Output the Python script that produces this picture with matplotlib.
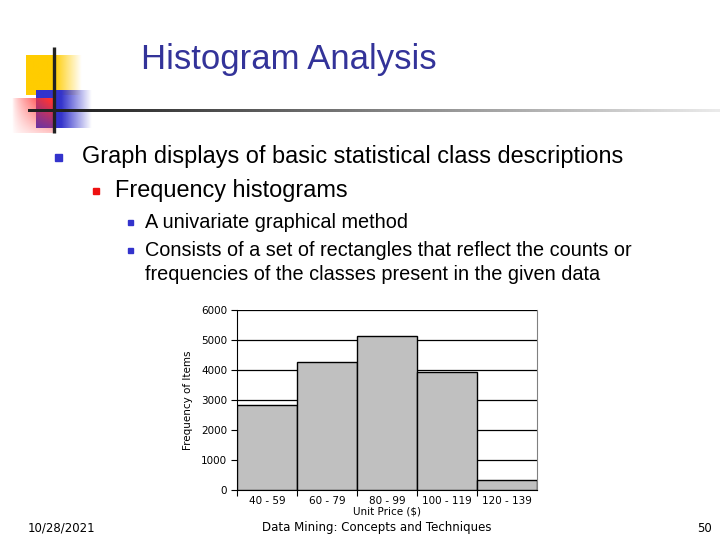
import numpy as np
import matplotlib.pyplot as plt
from matplotlib.patches import Rectangle

# histogram data
price_bins = ['40 - 59', '60 - 79', '80 - 99', '100 - 119', '120 - 139']
item_counts = [2850, 4280, 5150, 3920, 330]
y_ticks = [0, 1000, 2000, 3000, 4000, 5000, 6000]

title = 'Histogram Analysis'
bullets = [
    (1, 'Graph displays of basic statistical class descriptions'),
    (2, 'Frequency histograms'),
    (3, 'A univariate graphical method'),
    (3, 'Consists of a set of rectangles that reflect the counts or'),
    (0, 'frequencies of the classes present in the given data'),
]
footer_date = '10/28/2021'
footer_mid = 'Data Mining: Concepts and Techniques'
footer_page = '50'

W, H = 720, 540
fig = plt.figure(figsize=(7.2, 5.4), dpi=100)
fig.patch.set_facecolor('white')

# overlay in pixel coordinates for slide decoration and text
bg = fig.add_axes([0, 0, 1, 1], zorder=0)
bg.set_xlim(0, W)
bg.set_ylim(H, 0)
bg.axis('off')


def fade_box(ax, x0, x1, y0, y1, rgb, solid_to):
    n = 100
    t = np.linspace(0, 1, n)
    img = np.zeros((1, n, 4))
    img[..., :3] = rgb
    img[0, :, 3] = np.clip((1 - t) / (1 - solid_to), 0, 1)
    ax.imshow(img, extent=(x0, x1, y1, y0), aspect='auto', interpolation='bilinear', zorder=1)


# yellow and blue blocks fading to the right
fade_box(bg, 26, 82, 55, 95, (1.0, 0.8, 0.0), 0.5)
fade_box(bg, 36, 92, 90, 128, (0.2, 0.2, 0.8), 0.45)

# red block, strongest at top right, fading to the lower left
nx, ny = 60, 50
gx, gy = np.meshgrid(np.linspace(0, 1, nx), np.linspace(0, 1, ny))
red = np.zeros((ny, nx, 4))
red[..., 0] = 1.0
red[..., 1] = 0.2
red[..., 2] = 0.2
red[..., 3] = np.clip(gx ** 0.7 * (1 - 0.75 * gy) * 1.15, 0, 1)
bg.imshow(red, extent=(12, 56, 133, 98), aspect='auto', interpolation='bilinear', zorder=2)

# rule lines
bg.plot([54, 54], [47, 133], color='#222222', lw=2.4, zorder=4, solid_capstyle='butt')
n = 200
xs = np.linspace(28, 720, n)
grad = np.zeros((1, n, 4))
shade = np.clip((xs - 60) / 700, 0, 1) * 0.85 + 0.12
grad[0, :, 0] = shade
grad[0, :, 1] = shade
grad[0, :, 2] = shade
grad[0, :, 3] = 1
grad[0, xs < 60, :3] = 0.13
bg.imshow(grad, extent=(28, 720, 112.5, 109.5), aspect='auto', interpolation='bilinear', zorder=3)

bg.text(289, 60, title, fontsize=25, color='#333399', ha='center', va='center',
        family='Liberation Sans')

# bullets
text_x = {1: 82, 2: 115, 3: 145, 0: 145}
text_y = [157, 191, 222, 250, 275]
text_size = {1: 16.9, 2: 16.9, 3: 14.3, 0: 14.3}
box = {1: (55, 7, '#3333CC'), 2: (93, 6, '#EE1111'), 3: (128, 5, '#3333CC')}
for (lvl, txt), y in zip(bullets, text_y):
    bg.text(text_x[lvl], y, txt, fontsize=text_size[lvl], color='black', va='center',
            family='Liberation Sans')
    if lvl in box:
        bx, s, c = box[lvl]
        bg.add_patch(Rectangle((bx, y - s / 2), s, s, color=c, zorder=5))

# footer
bg.text(61, 528, footer_date, fontsize=8.5, ha='center', va='center', family='DejaVu Sans')
bg.text(377, 528, footer_mid, fontsize=8.5, ha='center', va='center', family='DejaVu Sans')
bg.text(704, 528, footer_page, fontsize=8.5, ha='center', va='center', family='DejaVu Sans')

# the histogram itself
ax = fig.add_axes([237 / W, 1 - 490 / H, 300 / W, 180 / H], zorder=2)
ax.set_facecolor('none')
pos = np.arange(len(price_bins))
ax.bar(pos, item_counts, width=1.0, color='#C0C0C0', edgecolor='black', linewidth=1.0, zorder=3)
ax.set_xlim(-0.5, len(price_bins) - 0.5)
ax.set_ylim(0, 6000)
ax.set_yticks(y_ticks)
ax.set_yticklabels([str(v) for v in y_ticks], fontsize=7.5, family='DejaVu Sans')
ax.set_xticks(pos - 0.5, minor=False)
ax.set_xticklabels([])
ax.set_xticks(pos, minor=True)
ax.set_xticklabels(price_bins, minor=True, fontsize=7.5, family='DejaVu Sans')
ax.tick_params(axis='x', which='minor', length=0, pad=4)
ax.tick_params(axis='x', which='major', length=4, direction='out')
ax.tick_params(axis='y', length=4, direction='out', pad=3)
ax.grid(axis='y', color='black', linewidth=0.9, zorder=0)
ax.spines['top'].set_visible(False)
ax.spines['right'].set_color('#808080')
ax.spines['left'].set_color('black')
ax.spines['bottom'].set_color('black')
ax.set_xlabel('Unit Price ($)', fontsize=7.5, family='DejaVu Sans', labelpad=1)
ax.set_ylabel('Frequency of Items', fontsize=7.5, family='DejaVu Sans', labelpad=6)

fig.savefig('out.png', dpi=100)
